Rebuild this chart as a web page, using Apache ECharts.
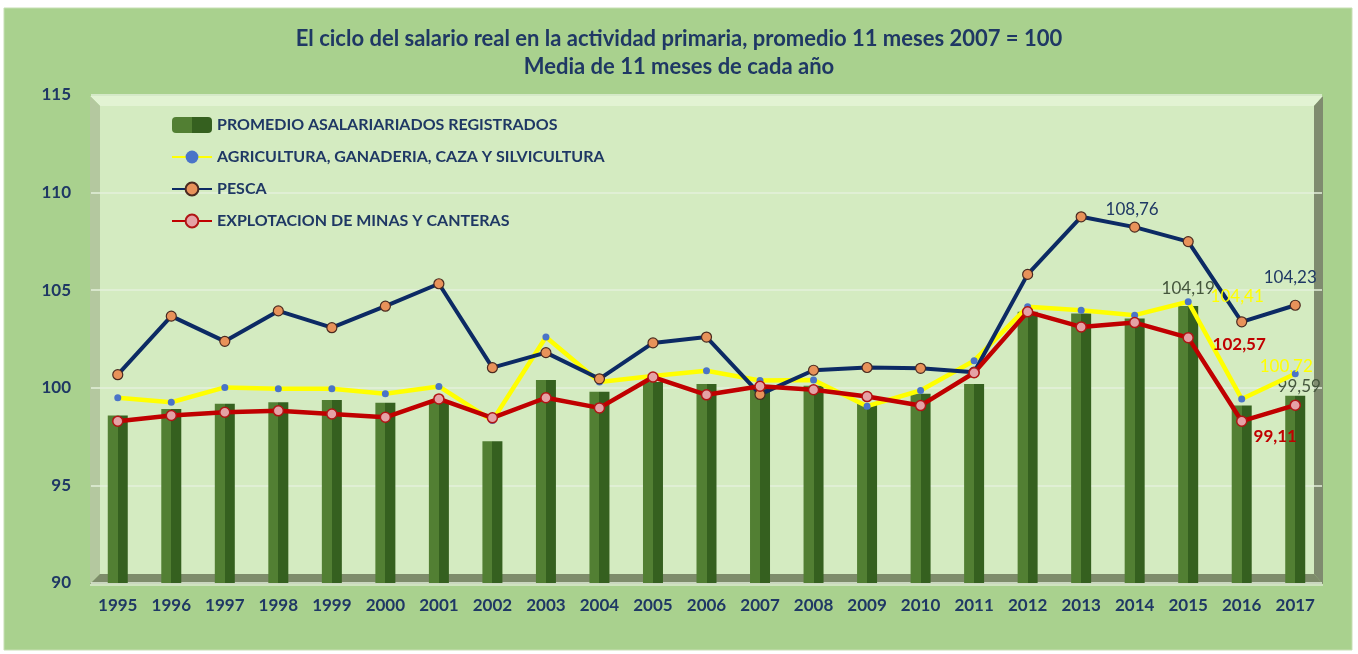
<!DOCTYPE html>
<html>
<head>
<meta charset="utf-8">
<title>Salario real actividad primaria</title>
<script src="https://cdn.jsdelivr.net/npm/echarts@6/dist/echarts.min.js"></script>
<style>
  html, body { margin: 0; padding: 0; background: #fff; }
  #chart { width: 1358px; height: 654px; }
</style>
</head>
<body>
<div id="chart"></div>
<script>
  // datos
  var years = ['1995','1996','1997','1998','1999','2000','2001','2002','2003','2004','2005','2006',
               '2007','2008','2009','2010','2011','2012','2013','2014','2015','2016','2017']
  var promedio = [98.58, 98.92, 99.18, 99.26, 99.38, 99.23, 99.35, 97.26, 100.4, 99.8, 100.3, 100.2,
                  100.0, 100.1, 99.2, 99.7, 100.2, 103.9, 103.8, 103.55, 104.19, 99.09, 99.59]
  var agricultura = [99.49, 99.26, 100.02, 99.95, 99.95, 99.69, 100.07, 98.32, 102.6, 100.3, 100.6, 100.87,
                     100.37, 100.4, 99.06, 99.86, 101.39, 104.15, 103.97, 103.72, 104.41, 99.43, 100.72]
  var pesca = [100.67, 103.67, 102.38, 103.94, 103.08, 104.18, 105.33, 101.03, 101.8, 100.46, 102.3, 102.6,
               99.66, 100.9, 101.04, 101.0, 100.8, 105.81, 108.76, 108.23, 107.49, 103.38, 104.23]
  var minas = [98.29, 98.58, 98.75, 98.82, 98.66, 98.49, 99.43, 98.46, 99.49, 98.97, 100.55, 99.64,
               100.08, 99.9, 99.55, 99.09, 100.77, 103.89, 103.12, 103.34, 102.57, 98.29, 99.11]
  var yTicks = { min: 90, max: 115, step: 5 }
  var names = ['PROMEDIO ASALARIARIADOS REGISTRADOS', 'AGRICULTURA, GANADERIA, CAZA Y SILVICULTURA',
               'PESCA', 'EXPLOTACION DE MINAS Y CANTERAS']

  var FONT = 'Lato, "Liberation Sans", sans-serif'
  var NAVY = '#1f3864'

  function coma (p) {
    return p.value.toFixed(2).replace('.', ',')
  }

  // añade etiquetas solo en algunos puntos
  function conEtiquetas (values, labels) {
    return values.map(function (v, i) {
      if (!labels[i]) return v
      return { value: v, label: Object.assign({ show: true, formatter: coma, fontFamily: FONT, fontSize: 17 }, labels[i]) }
    })
  }

  var chart = echarts.init(document.getElementById('chart'))
  window.addEventListener('resize', function () { chart.resize() })

  chart.setOption({
    animation: false,
    backgroundColor: '#ffffff',
    textStyle: { fontFamily: FONT },
    title: {
      text: 'El ciclo del salario real en la actividad primaria, promedio 11 meses 2007 = 100\nMedia de 11 meses de cada año',
      left: 'center',
      top: 20,
      textStyle: { color: NAVY, fontFamily: FONT, fontWeight: 'bold', fontSize: 22, lineHeight: 28 }
    },
    graphic: [
      { type: 'rect', z: -5, z2: 1, shape: { x: 4, y: 8, width: 1348, height: 642 },
        style: { fill: '#a9d18e', stroke: '#c6dfb3', lineWidth: 1 } },
      { type: 'rect', z: -5, z2: 2, shape: { x: 100, y: 106, width: 1214, height: 468 },
        style: { fill: '#d4ebc1' } },
      { type: 'polygon', z: -5, z2: 3, shape: { points: [[90, 96], [1323, 96], [1314, 106], [100, 106]] },
        style: { fill: '#e2f3d3' } },
      { type: 'polygon', z: -5, z2: 3, shape: { points: [[90, 96], [100, 106], [100, 574], [90, 584]] },
        style: { fill: '#b4c89f' } },
      { type: 'polygon', z: -5, z2: 3, shape: { points: [[1314, 106], [1323, 96], [1323, 584], [1314, 574]] },
        style: { fill: '#7f8b6f' } },
      { type: 'polygon', z: -5, z2: 3, shape: { points: [[100, 574], [1314, 574], [1323, 584], [90, 584]] },
        style: { fill: '#7e8c6b' } },
      { type: 'line', z: -5, z2: 4, shape: { x1: 90, y1: 585, x2: 1323, y2: 585 },
        style: { stroke: '#cfe3bf', lineWidth: 2 } }
    ],
    legend: {
      orient: 'vertical',
      left: 166,
      top: 112,
      itemGap: 16,
      itemWidth: 40,
      itemHeight: 16,
      data: names,
      textStyle: { color: NAVY, fontFamily: FONT, fontWeight: 'bold', fontSize: 16 }
    },
    grid: {
      left: 91,
      right: 36,
      top: 95,
      bottom: 71,
      containLabel: false
    },
    xAxis: {
      type: 'category',
      data: years,
      axisLine: { show: false },
      axisTick: { show: false },
      axisLabel: { color: NAVY, fontFamily: FONT, fontWeight: 'bold', fontSize: 17, margin: 14 }
    },
    yAxis: {
      type: 'value',
      min: yTicks.min,
      max: yTicks.max,
      interval: yTicks.step,
      axisLine: { show: false },
      axisTick: { show: false },
      axisLabel: { color: NAVY, fontFamily: FONT, fontWeight: 'bold', fontSize: 17, margin: 20 },
      splitLine: { lineStyle: { color: '#e4f0db', width: 1.5 } }
    },
    series: [
      {
        name: names[0],
        type: 'bar',
        barWidth: 20,
        itemStyle: {
          color: {
            type: 'linear', x: 0, y: 0, x2: 1, y2: 0,
            colorStops: [
              { offset: 0, color: '#527f33' }, { offset: 0.5, color: '#527f33' },
              { offset: 0.5, color: '#35601f' }, { offset: 1, color: '#35601f' }
            ]
          }
        },
        data: conEtiquetas(promedio, {
          20: { position: 'top', offset: [0, -4], color: '#45563d' },
          22: { position: 'top', offset: [4, 4], color: '#45563d' }
        })
      },
      {
        name: names[1],
        type: 'line',
        symbol: 'circle',
        symbolSize: 7,
        lineStyle: { color: '#ffff00', width: 4.5 },
        itemStyle: { color: '#4a74c8', borderWidth: 0 },
        data: conEtiquetas(agricultura, {
          20: { position: 'inside', offset: [49, -5], color: '#ffff00' },
          22: { position: 'inside', offset: [-9, -7], color: '#ffff00' }
        })
      },
      {
        name: names[2],
        type: 'line',
        symbol: 'circle',
        symbolSize: 10,
        lineStyle: { color: '#0c2a64', width: 4 },
        itemStyle: { color: '#e8925a', borderColor: '#4a2a20', borderWidth: 1.2 },
        data: conEtiquetas(pesca, {
          18: { position: 'inside', offset: [51, -7], color: NAVY },
          22: { position: 'inside', offset: [-5, -28], color: NAVY }
        })
      },
      {
        name: names[3],
        type: 'line',
        symbol: 'circle',
        symbolSize: 10,
        lineStyle: { color: '#c00000', width: 4.5 },
        itemStyle: { color: '#e5a2a6', borderColor: '#b01515', borderWidth: 1.5 },
        data: conEtiquetas(minas, {
          20: { position: 'inside', offset: [51, 7], color: '#c00000', fontWeight: 'bold' },
          22: { position: 'inside', offset: [-20, 31], color: '#c00000', fontWeight: 'bold' }
        })
      }
    ]
  })
</script>
</body>
</html>
